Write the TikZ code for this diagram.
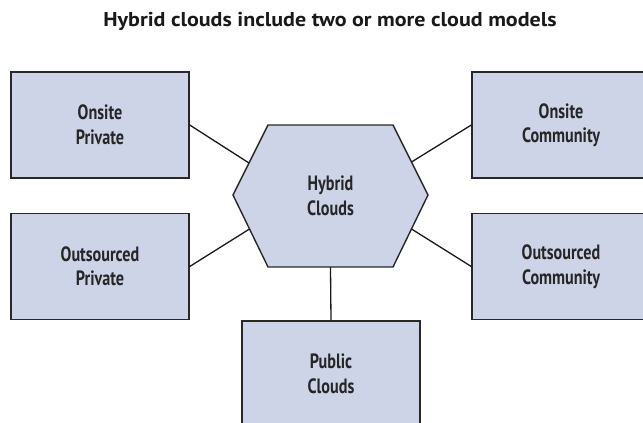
\documentclass[tikz,border=0pt]{standalone}
\usepackage{fontspec}
\setmainfont{PT Sans}
\newfontfamily\titlefont[FakeStretch=1.1]{PT Sans}
\newfontfamily\labelfont[FakeStretch=0.78]{PT Sans}
\definecolor{boxfill}{RGB}{206,212,232}
\definecolor{edge}{RGB}{40,40,40}
\begin{document}
\begin{tikzpicture}[x=1pt,y=-1pt,
  labeltext/.style={font=\labelfont\bfseries\fontsize{20.7}{24.5}\selectfont,text=black!85,align=center},
  model/.style={labeltext,draw=edge,fill=boxfill,line width=1.4pt,minimum width=178pt,minimum height=106pt,inner sep=0pt},
  link/.style={draw=black!90,line width=1.3pt},
  hexa/.style={draw=edge,fill=boxfill,line width=1.4pt,line join=miter}]
\useasboundingbox (0,0) rectangle (643,423);
\clip (0,0) rectangle (643,423);

% title
\node[font=\titlefont\bfseries\fontsize{20}{22}\selectfont,text=black!90,anchor=base] (title) at (330,27)
  {Hybrid clouds include two or more cloud models};

% hexagon outline and its connection points
\coordinate (hL) at (233,195);
\coordinate (hTL) at (268,125);
\coordinate (hTR) at (393,125);
\coordinate (hR) at (428,195);
\coordinate (hBR) at (393,267);
\coordinate (hBL) at (268,267);
\path[hexa] (hL) -- (hTL) -- (hTR) -- (hR) -- (hBR) -- (hBL) -- cycle;
\node[labeltext] (hyb) at (330.5,196) {Hybrid\\Clouds};

\coordinate (pUL) at (249,163);
\coordinate (pLL) at (249.5,229);
\coordinate (pUR) at (411.5,162);
\coordinate (pLR) at (411.5,229);
\coordinate (pB) at (330.5,267);

% cloud model boxes
\node[model] (op) at (100,125) {Onsite\\Private};
\node[model] (outp) at (100,266.5) {Outsourced\\Private};
\node[model] (oc) at (561,125) {Onsite\\Community};
\node[model] (outc) at (561,266.5) {Outsourced\\Community};
\node[model] (pub) at (331,374) {Public\\Clouds};

% connectors
\draw[link] (op.east) -- (pUL);
\draw[link] (outp.east) -- (pLL);
\draw[link] (oc.west) -- (pUR);
\draw[link] (outc.west) -- (pLR);
\draw[link] (pB) -- (pub.north);
\end{tikzpicture}
\end{document}
